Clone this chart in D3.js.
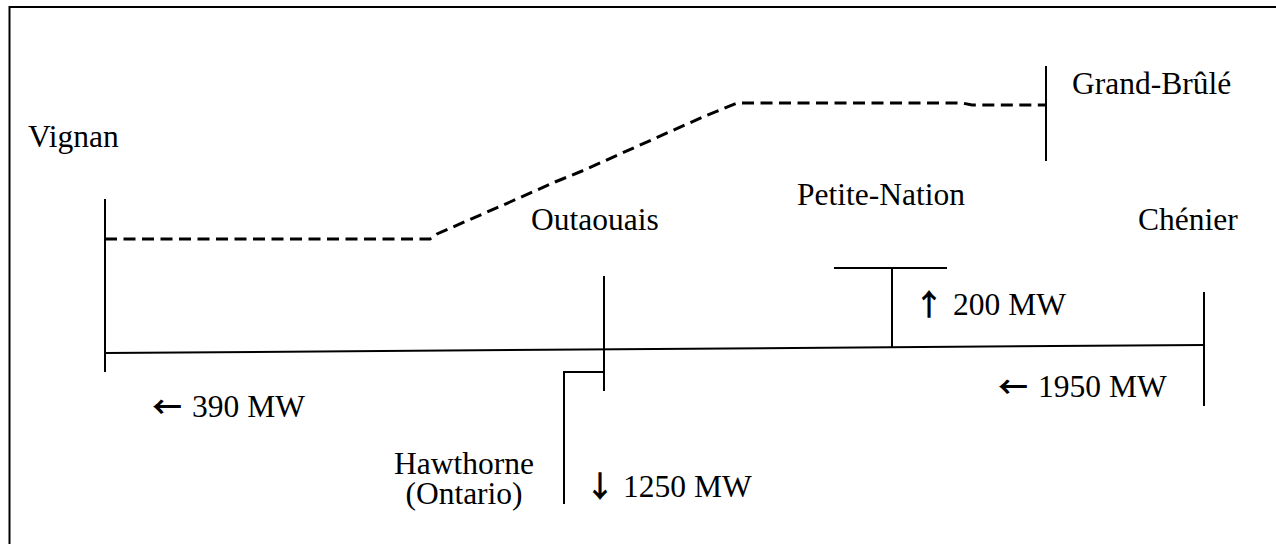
<!DOCTYPE html>
<html>
<head>
<meta charset="utf-8">
<script src="https://cdn.jsdelivr.net/npm/d3@7"></script>
<style>
  body { margin: 0; background: #fff; }
  text { font-family: "Liberation Serif", "Times New Roman", serif; font-size: 31.5px; fill: #000; }
  text.arrow { font-family: "Noto Sans CJK SC", "DejaVu Sans", sans-serif; font-size: 30px; font-weight: bold; }
</style>
</head>
<body>
<svg id="diagram" width="1276" height="544"></svg>
<script>
// stations on the line
var stations = ["Vignan", "Outaouais", "Petite-Nation", "Chénier", "Grand-Brûlé"]
// power flows (MW) and their direction
var flowValues = [390, 1250, 200, 1950]
var flowArrows = ["←", "↓", "↑", "←"]
var flowUnit = "MW"
var hawthorne = ["Hawthorne", "(Ontario)"]

var dimensions = { width: 1276, height: 544 }

var svg = d3.select("#diagram")

// pixel scales (identity layout)
var x = d3.scaleLinear().domain([0, dimensions.width]).range([0, dimensions.width])
var y = d3.scaleLinear().domain([0, dimensions.height]).range([0, dimensions.height])

// layout of the drawing
var buses = [
  { x1: 105, y1: 199, x2: 105, y2: 372 },   // Vignan
  { x1: 604, y1: 276, x2: 604, y2: 391 },   // Outaouais
  { x1: 1204, y1: 292, x2: 1204, y2: 406 }, // Chénier
  { x1: 1046, y1: 66, x2: 1046, y2: 161 },  // Grand-Brûlé
  { x1: 834, y1: 268, x2: 947, y2: 268 },   // Petite-Nation bar
  { x1: 892, y1: 268, x2: 892, y2: 347 },   // Petite-Nation tap
  { x1: 105, y1: 353, x2: 1204, y2: 345 }   // main line
]

var hawthorneLine = [[604, 372], [564, 372], [564, 504]]

var dashedLine = [
  [105, 239], [430, 239], [437, 234], [510, 202], [555, 182], [582, 171],
  [705, 116], [737, 103], [962, 103], [972, 105], [1046, 105]
]

var line = d3.line().x(function(d) { return x(d[0]) }).y(function(d) { return y(d[1]) })

// frame
svg.append("rect")
  .attr("x", 9.5).attr("y", 7)
  .attr("width", 1400).attr("height", 700)
  .attr("fill", "none").attr("stroke", "#000").attr("stroke-width", 2)

svg.append("g").selectAll("line")
  .data(buses)
  .enter().append("line")
    .attr("x1", function(d) { return x(d.x1) })
    .attr("y1", function(d) { return y(d.y1) })
    .attr("x2", function(d) { return x(d.x2) })
    .attr("y2", function(d) { return y(d.y2) })
    .attr("stroke", "#000")
    .attr("stroke-width", 2)

svg.append("path")
  .attr("d", line(hawthorneLine))
  .attr("fill", "none").attr("stroke", "#000").attr("stroke-width", 2)

svg.append("path")
  .attr("d", line(dashedLine))
  .attr("fill", "none").attr("stroke", "#000").attr("stroke-width", 3)
  .attr("stroke-dasharray", "12,6.5")

// station labels
var stationPos = [[28, 147], [531, 230], [797, 205], [1138, 230], [1072, 94]]
svg.append("g").selectAll("text")
  .data(stations)
  .enter().append("text")
    .attr("x", function(d, i) { return x(stationPos[i][0]) })
    .attr("y", function(d, i) { return y(stationPos[i][1]) })
    .text(function(d) { return d })

svg.append("g").selectAll("text")
  .data(hawthorne)
  .enter().append("text")
    .attr("text-anchor", "middle")
    .attr("x", x(464))
    .attr("y", function(d, i) { return y(474 + i * 30) })
    .text(function(d) { return d })

// flow labels
var arrowPos = [[152, 418], [585, 497], [914, 315], [998, 398]]
var valuePos = [[192, 417], [623, 497], [953, 315], [1038, 397]]

var flows = svg.append("g").selectAll("g")
  .data(flowValues)
  .enter().append("g")

flows.append("text")
  .attr("class", "arrow")
  .attr("x", function(d, i) { return x(arrowPos[i][0]) })
  .attr("y", function(d, i) { return y(arrowPos[i][1]) })
  .text(function(d, i) { return flowArrows[i] })

flows.append("text")
  .attr("x", function(d, i) { return x(valuePos[i][0]) })
  .attr("y", function(d, i) { return y(valuePos[i][1]) })
  .text(function(d) { return d + " " + flowUnit })
</script>
</body>
</html>
